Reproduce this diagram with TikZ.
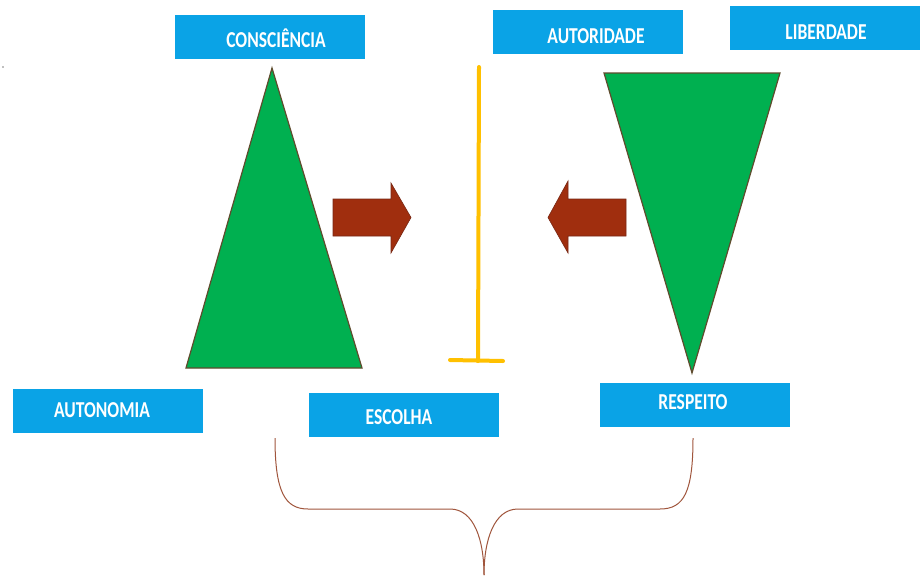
\documentclass[tikz,border=0pt]{standalone}
\usepackage{fontspec}
\setmainfont{Carlito}
\usepackage{graphicx}
\definecolor{boxblue}{RGB}{10,163,230}
\definecolor{trigreen}{RGB}{0,176,80}
\definecolor{triedge}{RGB}{95,75,45}
\definecolor{arrowred}{RGB}{160,46,14}
\definecolor{arrowedge}{RGB}{120,40,20}
\definecolor{baryellow}{RGB}{255,192,0}
\definecolor{bracebrown}{RGB}{160,85,60}
\tikzset{
  bluebox/.style={draw=none, fill=boxblue, minimum width=190pt, minimum height=44pt, inner sep=0pt, outer sep=0pt},
  boxtext/.style={text=white, font=\fontsize{17.5}{20}\bfseries\selectfont, inner sep=0pt},
  tri/.style={fill=trigreen, draw=triedge, line width=1.2pt, line join=miter},
  fatarrow/.style={fill=arrowred, draw=arrowedge, line width=0.6pt},
  bar/.style={draw=baryellow, line width=4pt, line cap=round},
  brace/.style={draw=bracebrown, line width=1pt}
}
\newcommand{\tallword}[1]{\scalebox{1}[1.3]{#1}}
\begin{document}
\begin{tikzpicture}[x=1pt, y=-1pt]
  \useasboundingbox (0,0) rectangle (923,579);
  \fill[white] (0,0) rectangle (923,579);

  % label boxes
  \node[bluebox] (cons) at (270,36.5) {};
  \node[boxtext] at (276,38.5) {\tallword{CONSCIÊNCIA}};
  \node[bluebox] (auto) at (588,31.5) {};
  \node[boxtext] at (596,36) {\tallword{AUTORIDADE}};
  \node[bluebox] (libe) at (825,28) {};
  \node[boxtext] at (826,32.5) {\tallword{LIBERDADE}};
  \node[bluebox] (auton) at (107.5,410.5) {};
  \node[boxtext] at (102,410) {\tallword{AUTONOMIA}};
  \node[bluebox] (esco) at (403.5,415) {};
  \node[boxtext] at (399,417.5) {\tallword{ESCOLHA}};
  \node[bluebox] (resp) at (694.5,404.5) {};
  \node[boxtext] at (693,402) {\tallword{RESPEITO}};

  % triangles
  \path[tri] (272,68) -- (362,368) -- (186,368) -- cycle;
  \path[tri] (604,73) -- (780,73) -- (692,373) -- cycle;

  % block arrows
  \path[fatarrow] (333,199) -- (391,199) -- (391,183) -- (411,217.5)
    -- (391,253) -- (391,236) -- (333,236) -- cycle;
  \path[fatarrow] (626,199) -- (568,199) -- (568,181) -- (548,217.5)
    -- (568,253) -- (568,236) -- (626,236) -- cycle;

  % yellow post
  \coordinate (ptop) at (479,67);
  \coordinate (pbot) at (478,361);
  \coordinate (fl) at (450,360);
  \coordinate (fr) at (503,361);
  \draw[bar] (ptop) -- (pbot);
  \draw[bar] (fl) -- (fr);

  % brace
  \coordinate (bl) at (275,438);
  \coordinate (btip) at (484,575);
  \coordinate (br) at (693,438);
  \draw[brace] (bl) .. controls (275,492) and (285,509) .. (308,509)
    -- (450,509) .. controls (474,509) and (484,540) .. (btip);
  \draw[brace] (btip) .. controls (484,540) and (494,509) .. (518,509)
    -- (660,509) .. controls (684,509) and (693,492) .. (br);

  % small speck
  \fill[gray] (3,67) circle (0.8);
\end{tikzpicture}
\end{document}
